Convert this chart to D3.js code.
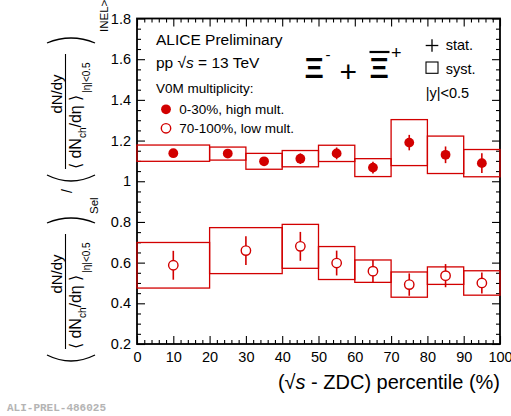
<!DOCTYPE html>
<html><head><meta charset="utf-8">
<script src="https://cdn.jsdelivr.net/npm/d3@7"></script>
<style>
html,body{margin:0;padding:0;background:#fff;}
svg{display:block;font-family:"Liberation Sans",Arial,Helvetica,sans-serif;}
</style></head>
<body>
<svg id="chart" width="511" height="416"></svg>
<script>
// ---- data ----
const highBinLo = [0, 20, 30, 40, 50, 60, 70, 80, 90];
const highBinHi = [20, 30, 40, 50, 60, 70, 80, 90, 100];
const highX     = [10, 25, 35, 45, 55, 65, 75, 85, 95];
const highY     = [1.138, 1.136, 1.098, 1.111, 1.137, 1.067, 1.190, 1.130, 1.089];
const highStat  = [0.015, 0.020, 0.020, 0.026, 0.029, 0.029, 0.038, 0.041, 0.049];
const highSyst  = [0.040, 0.032, 0.039, 0.040, 0.040, 0.044, 0.113, 0.092, 0.067];

const lowBinLo = [0, 20, 40, 50, 60, 70, 80, 90];
const lowBinHi = [20, 40, 50, 60, 70, 80, 90, 100];
const lowX     = [10, 30, 45, 55, 65, 75, 85, 95];
const lowY     = [0.587, 0.659, 0.680, 0.598, 0.558, 0.492, 0.536, 0.500];
const lowStat  = [0.071, 0.071, 0.071, 0.061, 0.055, 0.055, 0.057, 0.052];
const lowSyst  = [0.112, 0.113, 0.108, 0.081, 0.055, 0.062, 0.043, 0.060];

const xMajorTicks = [0, 10, 20, 30, 40, 50, 60, 70, 80, 90, 100];
const yMajorTicks = [0.2, 0.4, 0.6, 0.8, 1.0, 1.2, 1.4, 1.6, 1.8];
const yTickLabels = ["0.2", "0.4", "0.6", "0.8", "1", "1.2", "1.4", "1.6", "1.8"];

const legendTexts = ["0-30%, high mult.", "70-100%, low mult."];

// ---- layout ----
const L = 137, R = 500, T = 18.5, B = 344;
const RED = "#d20000";
const svg = d3.select("#chart");
const x = d3.scaleLinear().domain([0, 100]).range([L, R]);
const y = d3.scaleLinear().domain([0.2, 1.8]).range([B, T]);

const xMinor = d3.range(0, 101, 2).filter(v => v % 10 !== 0);
const yMinor = d3.range(0.2, 1.8001, 0.05).map(v => +v.toFixed(2)).filter(v => Math.abs(v*5 - Math.round(v*5)) > 1e-6);

function styleAxis(g) {
  g.select(".domain").remove();
  g.selectAll(".tick line").attr("stroke", "#000").attr("stroke-width", 1.1);
  g.selectAll("text").attr("fill", "#000").attr("font-size", "14.5px")
   .attr("font-family", "Liberation Sans, Arial, sans-serif");
}
// bottom
svg.append("g").attr("transform", `translate(0,${B})`)
  .call(d3.axisBottom(x).tickValues(xMajorTicks).tickSize(-8).tickSizeOuter(0).tickPadding(7.4).tickFormat(d3.format("d")))
  .call(styleAxis);
svg.append("g").attr("transform", `translate(0,${B})`)
  .call(d3.axisBottom(x).tickValues(xMinor).tickSize(-4).tickSizeOuter(0).tickFormat(""))
  .call(styleAxis);
// top
svg.append("g").attr("transform", `translate(0,${T})`)
  .call(d3.axisTop(x).tickValues(xMajorTicks).tickSize(-8).tickSizeOuter(0).tickFormat(""))
  .call(styleAxis);
svg.append("g").attr("transform", `translate(0,${T})`)
  .call(d3.axisTop(x).tickValues(xMinor).tickSize(-4).tickSizeOuter(0).tickFormat(""))
  .call(styleAxis);
// left
svg.append("g").attr("transform", `translate(${L},0)`)
  .call(d3.axisLeft(y).tickValues(yMajorTicks).tickSize(-8).tickSizeOuter(0).tickPadding(6)
        .tickFormat((d, i) => yTickLabels[i]))
  .call(styleAxis);
svg.append("g").attr("transform", `translate(${L},0)`)
  .call(d3.axisLeft(y).tickValues(yMinor).tickSize(-4).tickSizeOuter(0).tickFormat(""))
  .call(styleAxis);
// right
svg.append("g").attr("transform", `translate(${R},0)`)
  .call(d3.axisRight(y).tickValues(yMajorTicks).tickSize(-8).tickSizeOuter(0).tickFormat(""))
  .call(styleAxis);
svg.append("g").attr("transform", `translate(${R},0)`)
  .call(d3.axisRight(y).tickValues(yMinor).tickSize(-4).tickSizeOuter(0).tickFormat(""))
  .call(styleAxis);

// frame
svg.append("rect").attr("x", L).attr("y", T).attr("width", R - L).attr("height", B - T)
  .attr("fill", "none").attr("stroke", "#000").attr("stroke-width", 1.8);

// ---- systematic boxes ----
function boxes(lo, hi, yv, sy) {
  svg.append("g").selectAll("rect").data(yv).join("rect")
    .attr("x", (d, i) => x(lo[i]))
    .attr("width", (d, i) => x(hi[i]) - x(lo[i]))
    .attr("y", (d, i) => y(d + sy[i]))
    .attr("height", (d, i) => y(d - sy[i]) - y(d + sy[i]))
    .attr("fill", "none").attr("stroke", RED).attr("stroke-width", 1.3);
}
boxes(highBinLo, highBinHi, highY, highSyst);
boxes(lowBinLo, lowBinHi, lowY, lowSyst);

// ---- stat errors ----
function stats(xv, yv, st) {
  svg.append("g").selectAll("line").data(yv).join("line")
    .attr("x1", (d, i) => x(xv[i])).attr("x2", (d, i) => x(xv[i]))
    .attr("y1", (d, i) => y(d + st[i])).attr("y2", (d, i) => y(d - st[i]))
    .attr("stroke", RED).attr("stroke-width", 1.6);
}
stats(highX, highY, highStat);
stats(lowX, lowY, lowStat);

// ---- markers ----
svg.append("g").selectAll("circle").data(highY).join("circle")
  .attr("cx", (d, i) => x(highX[i])).attr("cy", d => y(d)).attr("r", 4.9)
  .attr("fill", RED);
svg.append("g").selectAll("circle").data(lowY).join("circle")
  .attr("cx", (d, i) => x(lowX[i])).attr("cy", d => y(d)).attr("r", 4.7)
  .attr("fill", "#fff").attr("stroke", RED).attr("stroke-width", 1.4);

// ---- texts in plot ----
function txt(xp, yp, s, size, opts = {}) {
  const t = svg.append("text").attr("x", xp).attr("y", yp).attr("font-size", size + "px")
    .attr("fill", opts.fill || "#000").text(s);
  if (opts.anchor) t.attr("text-anchor", opts.anchor);
  if (opts.family) t.attr("font-family", opts.family);
  if (opts.weight) t.attr("font-weight", opts.weight);
  return t;
}
txt(156, 45, "ALICE Preliminary", 15.5);
{
  const t = svg.append("text").attr("x", 156).attr("y", 68.3).attr("font-size", "15.5px");
  t.append("tspan").text("pp  √");
  t.append("tspan").attr("font-style", "italic").text("s");
  t.append("tspan").text(" = 13 TeV");
}
txt(156, 92.7, "V0M multiplicity:", 13.5);
svg.append("circle").attr("cx", 166).attr("cy", 109.3).attr("r", 4.9).attr("fill", RED);
svg.append("circle").attr("cx", 166).attr("cy", 128.3).attr("r", 4.7).attr("fill", "#fff")
  .attr("stroke", RED).attr("stroke-width", 1.4);
txt(179.3, 113.6, legendTexts[0], 13.5);
txt(179.3, 132.6, legendTexts[1], 13.5);

// Xi label
const XI_FONT = "Liberation Sans, Arial, sans-serif";
txt(304.5, 78.3, "Ξ", 30, {family: XI_FONT, weight: "bold"});
txt(325.5, 59.5, "-", 15);
txt(339.5, 82, "+", 30);
txt(369.5, 78.3, "Ξ", 30, {family: XI_FONT, weight: "bold"});
svg.append("line").attr("x1", 369.5).attr("x2", 389.5).attr("y1", 52).attr("y2", 52)
  .attr("stroke", "#000").attr("stroke-width", 2.2);
txt(391, 59.4, "+", 18);

// stat/syst legend
svg.append("line").attr("x1", 425.7).attr("x2", 438.3).attr("y1", 45.5).attr("y2", 45.5).attr("stroke", "#000").attr("stroke-width", 1.3);
svg.append("line").attr("x1", 432).attr("x2", 432).attr("y1", 39.3).attr("y2", 51.7).attr("stroke", "#000").attr("stroke-width", 1.3);
txt(445.7, 50.3, "stat.", 14.5);
svg.append("rect").attr("x", 426).attr("y", 62).attr("width", 12).attr("height", 11.3)
  .attr("fill", "none").attr("stroke", "#000").attr("stroke-width", 1.1);
txt(445.7, 73.5, "syst.", 14.5);
txt(425.7, 98.3, "|y|<0.5", 14.5);

// x-axis title
{
  const t = svg.append("text").attr("x", R).attr("y", 389).attr("font-size", "20px").attr("text-anchor", "end");
  t.append("tspan").text("(√");
  t.append("tspan").attr("font-style", "italic").text("s");
  t.append("tspan").text(" - ZDC) percentile (%)");
}

// watermark
txt(7, 411, "ALI-PREL-486025", 11, {family: "Liberation Mono, Courier New, monospace", weight: "bold", fill: "#b4b4b4"});

// ---- y-axis title (rotated) ----
function rot(X, Y, anchor) {
  return svg.append("text").attr("transform", `translate(${X},${Y}) rotate(-90)`)
    .attr("text-anchor", anchor || "middle").attr("fill", "#000");
}
function arc(Yend, Ymid) {
  const c = 2 * Ymid - Yend;
  svg.append("path").attr("d", `M47,${Yend} Q71,${c} 95,${Yend}`)
    .attr("fill", "none").attr("stroke", "#000").attr("stroke-width", 1.3);
}
function fracBlock(off) {
  // fraction line
  svg.append("line").attr("x1", 65.5).attr("x2", 65.5).attr("y1", 54 + off).attr("y2", 169 + off)
    .attr("stroke", "#000").attr("stroke-width", 1.1);
  rot(61.5, 94 + off).attr("font-size", "15px").text("dN/dy");
  const d = rot(81, 169 + off, "start").attr("font-size", "16px");
  d.append("tspan").text("⟨ dN");
  d.append("tspan").attr("font-size", "10px").attr("dy", 5).text("ch");
  d.append("tspan").attr("dy", -5).text("/dη ⟩");
  d.append("tspan").attr("font-size", "10px").attr("dy", 9).attr("dx", 2).text("|η|<0.5");
}
// upper block (INEL>0)
arc(43, 38);
fracBlock(0);
arc(175, 181);
rot(108, 32, "start").attr("font-size", "11.5px").text("INEL>0");
rot(72, 191).attr("font-size", "14px").text("/");
// lower block (Sel)
rot(98, 214, "start").attr("font-size", "11.5px").text("Sel");
arc(223, 218);
fracBlock(180);
arc(355, 361);
</script>
</body></html>
